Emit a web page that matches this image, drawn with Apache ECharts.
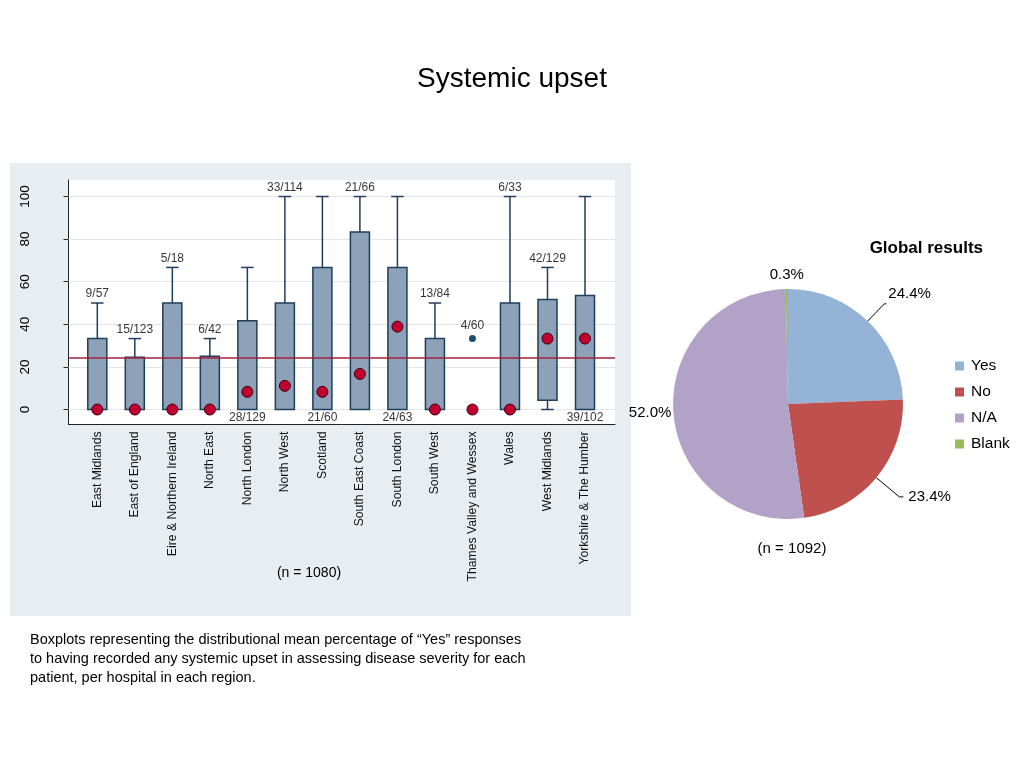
<!DOCTYPE html>
<html><head><meta charset="utf-8">
<script src="https://cdn.jsdelivr.net/npm/echarts@6/dist/echarts.min.js"></script>
<style>html,body{margin:0;padding:0;background:#fff}#c{width:1024px;height:768px}</style>
</head><body><div id="c"></div>
<script>
// ---------- data ----------
const categories = ["East Midlands","East of England","Eire & Northern Ireland","North East","North London","North West","Scotland","South East Coast","South London","South West","Thames Valley and Wessex","Wales","West Midlands","Yorkshire & The Humber"];
const whiskerLow  = [0,0,0,0,0,0,0,0,0,0,0,0,0,0];
const boxLow      = [0,0,0,0,0,0,0,0,0,0,0,0,4.4,0];
const boxHigh     = [33.3,24.5,50,25,41.7,50,66.7,83.3,66.7,33.3,0,50,51.7,53.5];
const whiskerHigh = [50,33.3,66.7,33.3,66.7,100,100,100,100,50,0,100,66.7,100];
const medians     = [0,0,0,0,8.3,11.1,8.3,16.7,38.9,0,0,0,33.3,33.3];
const outlierCats = [10];
const outlierVals = [33.3];
const countLabels = ["9/57","15/123","5/18","6/42","28/129","33/114","21/60","21/66","24/63","13/84","4/60","6/33","42/129","39/102"];
const labelSides  = ["above","above","above","above","below","above","below","above","below","above","above","above","above","below"];
const yTicks = [0,20,40,60,80,100];
const referenceValue = 24.4;
const pieNames  = ["Yes","No","N/A","Blank"];
const pieValues = [24.4,23.4,52.0,0.3];
const pieColors = ["#95b3d7","#c0504d","#b3a2c7","#9bbb59"];

// ---------- chart ----------
const FONT = "'Liberation Sans', Arial, sans-serif";
const chart = echarts.init(document.getElementById('c'), null, {renderer:'canvas'});
const BOX_RATIO = 0.507, CAP = 12.5, EDGE = '#1f3d5c';

function renderBox(params, api){
  const x = api.value(0), lo = api.value(1), q1 = api.value(2), q3 = api.value(3), hi = api.value(4);
  const bw = api.size([1,0])[0] * BOX_RATIO;
  const pLo = api.coord([x, lo]), pQ1 = api.coord([x, q1]), pQ3 = api.coord([x, q3]), pHi = api.coord([x, hi]);
  const cx = pQ1[0];
  const st = {stroke: EDGE, lineWidth: 1.5};
  const ch = [];
  if (hi > q3){
    ch.push({type:'line', shape:{x1:cx,y1:pHi[1],x2:cx,y2:pQ3[1]}, style:st});
    ch.push({type:'line', shape:{x1:cx-CAP/2,y1:pHi[1],x2:cx+CAP/2,y2:pHi[1]}, style:st});
  }
  if (lo < q1){
    ch.push({type:'line', shape:{x1:cx,y1:pLo[1],x2:cx,y2:pQ1[1]}, style:st});
    ch.push({type:'line', shape:{x1:cx-CAP/2,y1:pLo[1],x2:cx+CAP/2,y2:pLo[1]}, style:st});
  }
  if (q3 > q1){
    ch.push({type:'rect', shape:{x:cx-bw/2,y:pQ3[1],width:bw,height:pQ1[1]-pQ3[1]}, style:{fill:'#8da2b8', stroke:EDGE, lineWidth:1.5}});
  }
  return {type:'group', children: ch};
}

const boxData = categories.map((c,i)=>[i, whiskerLow[i], boxLow[i], boxHigh[i], whiskerHigh[i]]);
const labelData = categories.map((c,i)=>{
  const oi = outlierCats.indexOf(i);
  if (labelSides[i] === 'above'){
    const v = oi >= 0 ? Math.max(whiskerHigh[i], outlierVals[oi]) : whiskerHigh[i];
    return {value:[i, v], label:{position:'top', distance: oi>=0 ? 7 : 3}};
  }
  return {value:[i, whiskerLow[i]], label:{position:'bottom', distance: 2}};
});

const option = {
  animation:false,
  textStyle:{fontFamily:FONT},
  graphic:[{type:'rect', z:-100, shape:{x:10,y:163,width:621,height:453}, style:{fill:'#e8edf1'}, silent:true}],
  title:[
    {text:'Systemic upset', left:'center', top:60, textStyle:{fontSize:28, fontWeight:'normal', color:'#000', fontFamily:FONT}},
    {text:'Global results', right:36, top:235, textStyle:{fontSize:17, fontWeight:'bold', color:'#000', fontFamily:FONT}},
    {text:'(n = 1080)', left:304, textAlign:'center', top:561, textStyle:{fontSize:14, fontWeight:'normal', color:'#000', fontFamily:FONT}},
    {text:'(n = 1092)', left:787, textAlign:'center', top:536, textStyle:{fontSize:15, fontWeight:'normal', color:'#000', fontFamily:FONT}},
    {text:'Boxplots representing the distributional mean percentage of \u201cYes\u201d responses\nto having recorded any systemic upset in assessing disease severity for each\npatient, per hospital in each region.',
     left:25, top:625, textStyle:{fontSize:14.5, lineHeight:19, fontWeight:'normal', color:'#000', fontFamily:FONT}}
  ],
  legend:{
    orient:'vertical', left:950, top:352, itemWidth:9, itemHeight:9, itemGap:8, icon:'rect',
    data:pieNames, textStyle:{fontSize:15.5, color:'#000', lineHeight:18, padding:[0,0,0,2], fontFamily:FONT}
  },
  grid:[
    {left:68.5, right:409, top:180, bottom:343.5, show:true, backgroundColor:'#fff', borderWidth:0},
    {left:78.54, right:420.24, top:180, bottom:343.5}
  ],
  xAxis:[
    {gridIndex:0, type:'value', min:0, max:1, axisLine:{show:true, onZero:false, lineStyle:{color:'#222', width:1}}, axisTick:{show:false}, axisLabel:{show:false}, splitLine:{show:false}},
    {gridIndex:1, type:'category', data:categories, axisLine:{show:false}, axisTick:{show:false},
     axisLabel:{rotate:90, margin:7, fontSize:12.2, color:'#111', interval:0, fontFamily:FONT}}
  ],
  yAxis:[
    {gridIndex:0, type:'value', min:-7.04, max:107.75, axisLine:{show:true, onZero:false, lineStyle:{color:'#222', width:1}},
     axisTick:{show:true, customValues:yTicks, length:5, lineStyle:{color:'#222'}},
     axisLabel:{customValues:yTicks, rotate:90, margin:36, fontSize:13.5, color:'#000', fontFamily:FONT},
     splitLine:{show:false}},
    {gridIndex:1, type:'value', min:-7.04, max:107.75, show:false}
  ],
  series:[
    {type:'line', xAxisIndex:0, yAxisIndex:0, data:[], z:1,
     markLine:{z:1, silent:true, symbol:'none', label:{show:false}, lineStyle:{color:'#e2e6ea', type:'solid', width:1},
       data: yTicks.map(v=>({yAxis:v}))}},
    {type:'custom', xAxisIndex:1, yAxisIndex:1, renderItem:renderBox, data:boxData, z:2,
     encode:{x:0, y:[1,2,3,4]}},
    {type:'line', xAxisIndex:0, yAxisIndex:0, data:[], z:3,
     markLine:{z:3, silent:true, symbol:'none', label:{show:false}, lineStyle:{color:'#a3203e', type:'solid', width:1.5},
       data:[{yAxis:referenceValue}]}},
    {type:'scatter', xAxisIndex:1, yAxisIndex:1, z:4, symbolSize:11,
     itemStyle:{color:'#c0002f', borderColor:'#3a0010', borderWidth:1, opacity:1},
     data: medians.map((v,i)=>[i,v])},
    {type:'scatter', xAxisIndex:1, yAxisIndex:1, z:4, symbolSize:7,
     itemStyle:{color:'#1f4e6e', opacity:1},
     data: outlierCats.map((c,k)=>[c, outlierVals[k]])},
    {type:'scatter', xAxisIndex:1, yAxisIndex:1, z:5, symbolSize:0, silent:true,
     label:{show:true, formatter:p=>countLabels[p.dataIndex], fontSize:12, color:'#000', fontFamily:FONT},
     data: labelData},
    {type:'pie', center:[788,404], radius:115, startAngle:90, clockwise:true, avoidLabelOverlap:false,
     label:{show:true, position:'outside', formatter:p=>p.value.toFixed(1)+'%', fontSize:15, color:'#000', fontFamily:FONT},
     labelLine:{show:true, length:24, length2:2, smooth:false, lineStyle:{color:'#000', width:1}},
     labelLayout:function(p){
       if (p.dataIndex===3) return {align:'center', dx:5};
       if (p.dataIndex===2) return {dx:4};
       if (p.dataIndex===0) return {dy:-10, dx:-3};
     },
     data: pieNames.map((n,i)=>{
       const d = {name:n, value:pieValues[i], itemStyle:{color:pieColors[i]}};
       if (n==='N/A') d.labelLine = {show:false, length:1, length2:0};
       if (n==='Blank') d.labelLine = {show:false, length:14, length2:0};
       if (n==='No') d.labelLine = {show:true, length:30, length2:4};
       return d;
     })}
  ]
};
chart.setOption(option);
</script></body></html>
